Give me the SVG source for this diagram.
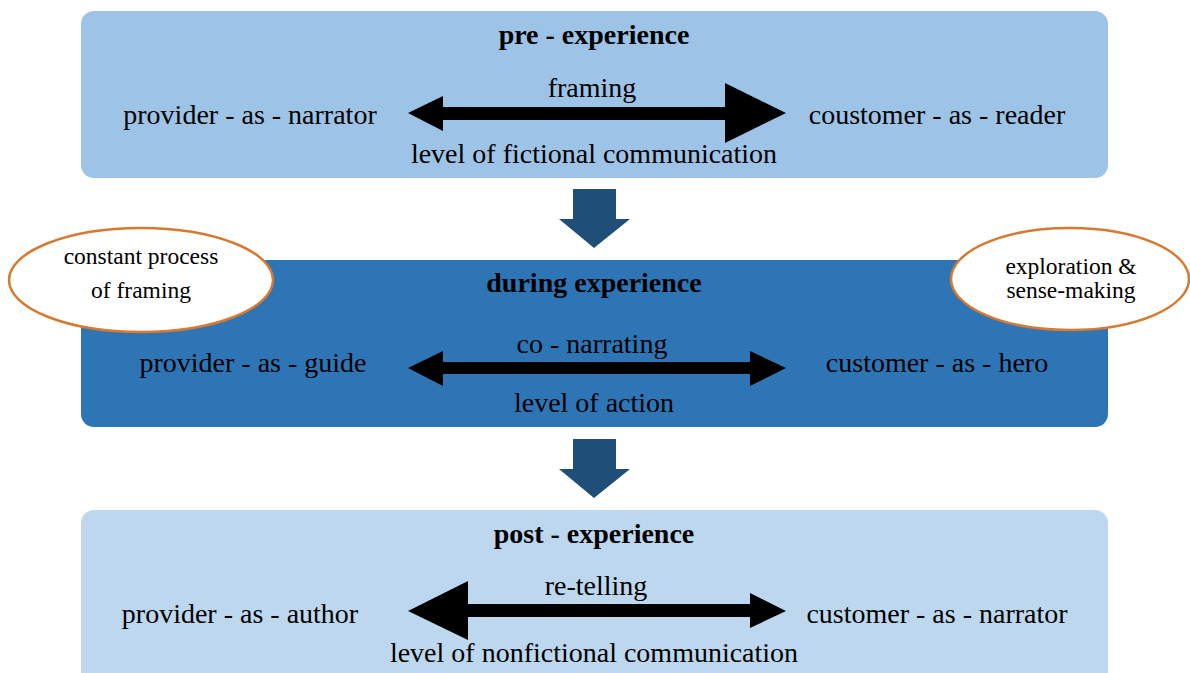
<svg xmlns="http://www.w3.org/2000/svg" width="1190" height="673" viewBox="0 0 1190 673">
<style>
  text { font-family: "Liberation Serif", "Times New Roman", serif; fill: #000; text-anchor: middle; }
  .t { font-size: 28px; }
  .b { font-size: 28px; font-weight: bold; }
  .s { font-size: 23.5px; }
  .dn { fill: #1F4E79; }
  .dbl { fill: #000; }
  .ell { fill: #fff; stroke: #D9782F; stroke-width: 2.5; }
</style>
<rect width="1190" height="673" fill="#fff"/>
<g id="pre">
  <rect x="81" y="11" width="1027" height="167" rx="13" fill="#9DC3E6"/>
  <text class="b" x="594" y="44">pre - experience</text>
  <text class="t" x="250" y="124">provider - as - narrator</text>
  <text class="t" x="937" y="124">coustomer - as - reader</text>
  <text class="t" x="592" y="97">framing</text>
  <text class="t" x="594" y="163">level of fictional communication</text>
</g>
<g id="during">
  <rect x="81" y="260" width="1027" height="167" rx="13" fill="#2E75B6"/>
  <text class="b" x="594" y="292">during experience</text>
  <text class="t" x="253" y="372">provider - as - guide</text>
  <text class="t" x="937" y="372">customer - as - hero</text>
  <text class="t" x="592" y="353">co - narrating</text>
  <text class="t" x="594" y="412">level of action</text>
</g>
<g id="post">
  <rect x="81" y="510" width="1027" height="183" rx="13" fill="#BDD7EE"/>
  <text class="b" x="594" y="543">post - experience</text>
  <text class="t" x="240" y="623">provider - as - author</text>
  <text class="t" x="937" y="623">customer - as - narrator</text>
  <text class="t" x="596" y="595">re-telling</text>
  <text class="t" x="594" y="662">level of nonfictional communication</text>
</g>
<g id="connectors">
  <polygon class="dn" points="573,189 616,189 616,219 630,219 594,248 559,219 573,219"/>
  <polygon class="dn" points="573,439 616,439 616,469 630,469 594,498 559,469 573,469"/>
  <polygon class="dbl" points="408,113 443,96 443,107 725,107 725,83 786,113 725,143 725,120 443,120 443,131"/>
  <polygon class="dbl" points="408,368 443,351 443,362 750,362 750,351 786,368 750,386 750,374 443,374 443,386"/>
  <polygon class="dbl" points="408,611 468,581 468,604 750,604 750,593 786,611 750,628 750,617 468,617 468,640"/>
</g>
<g id="note-framing">
  <ellipse class="ell" cx="141" cy="280" rx="132" ry="52"/>
  <text class="s" x="141" y="264">constant process</text>
  <text class="s" x="141" y="298">of framing</text>
</g>
<g id="note-exploration">
  <ellipse class="ell" cx="1070" cy="279" rx="119" ry="51"/>
  <text class="s" x="1071" y="274">exploration &amp;</text>
  <text class="s" x="1071" y="298">sense-making</text>
</g>
</svg>
